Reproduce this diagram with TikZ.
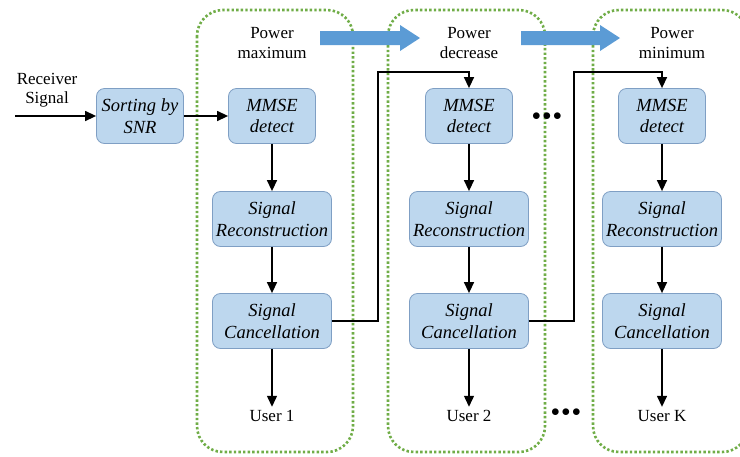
\documentclass[tikz,border=0pt]{standalone}
\usepackage{fontspec}
\setmainfont{Liberation Serif}
\newfontfamily\diagfont{Liberation Serif}
\usetikzlibrary{arrows.meta}
\definecolor{boxfill}{HTML}{BDD7EE}
\definecolor{boxline}{HTML}{7F9FC4}
\definecolor{groupgreen}{HTML}{70AD47}
\definecolor{flowblue}{HTML}{5B9BD5}
\tikzset{
  proc/.style={draw=boxline, fill=boxfill, rounded corners=8pt, line width=0.8pt,
    minimum height=55pt, align=center, font=\diagfont\fontsize{18.5}{21.5}\selectfont\itshape, inner sep=2pt},
  label/.style={align=center, font=\diagfont\fontsize{17}{19.5}\selectfont},
  group/.style={draw=groupgreen, line width=2.6pt, dash pattern=on 2.4pt off 2.2pt, rounded corners=26pt},
  flow/.style={-{Triangle[length=11pt,width=10pt]}, line width=1.4pt},
  power/.style={fill=flowblue},
  dots/.style={font=\fontsize{18}{18}\selectfont}
}
\begin{document}
\begin{tikzpicture}[x=1pt,y=-1pt]
\useasboundingbox[fill=white] (0,0) rectangle (740,456);
\begin{scope}
\clip (0,0) rectangle (740,456);
% stage groups
\draw[group] (197,10) rectangle (353,452);
\draw[group] (388,10) rectangle (545,452);
\draw[group] (593,10) rectangle (748,452);
\end{scope}

% power trend arrows
\fill[power] (320,31) -- (400,31) -- (400,25) -- (420,38) -- (400,51) -- (400,45) -- (320,45) -- cycle;
\fill[power] (521,31) -- (600,31) -- (600,25) -- (620,38) -- (600,51) -- (600,45) -- (521,45) -- cycle;

% stage titles
\node[label] (t1) at (272,43) {Power\\maximum};
\node[label] (t2) at (469,43) {Power\\decrease};
\node[label] (t3) at (672,43) {Power\\minimum};

% input
\coordinate (in) at (15,116);
\node[label] (rs) at (47,90) {Receiver\\Signal};
\node[proc, minimum width=87pt] (sort) at (140,116) {Sorting by\\SNR};

% stage 1
\node[proc, minimum width=87pt] (m1) at (272,116) {MMSE\\detect};
\node[proc, minimum width=119pt] (r1) at (272,219) {Signal\\Reconstruction};
\node[proc, minimum width=119pt] (c1) at (272,321) {Signal\\Cancellation};
\node[label] (u1) at (272,416) {User 1};

% stage 2
\node[proc, minimum width=87pt] (m2) at (469,116) {MMSE\\detect};
\node[proc, minimum width=119pt] (r2) at (469,219) {Signal\\Reconstruction};
\node[proc, minimum width=119pt] (c2) at (469,321) {Signal\\Cancellation};
\node[label] (u2) at (469,416) {User 2};

% stage K
\node[proc, minimum width=87pt] (m3) at (662,116) {MMSE\\detect};
\node[proc, minimum width=119pt] (r3) at (662,219) {Signal\\Reconstruction};
\node[proc, minimum width=119pt] (c3) at (662,321) {Signal\\Cancellation};
\node[label] (u3) at (662,416) {User K};

% ellipses between stages
\node[dots] (d1) at (547,117) {$\bullet\mkern-2mu\bullet\mkern-2mu\bullet$};
\node[dots] (d2) at (566,413) {$\bullet\mkern-2mu\bullet\mkern-2mu\bullet$};

% connectors
\draw[flow] (in) -- (sort);
\draw[flow] (sort) -- (m1);
\foreach \k in {1,2,3}{
  \draw[flow] (m\k) -- (r\k);
  \draw[flow] (r\k) -- (c\k);
  \draw[flow] (c\k) -- (u\k);
}
\draw[flow] (c1.east) -- (378,321) -- (378,72) -| (m2.north);
\draw[flow] (c2.east) -- (574,321) -- (574,72) -| (m3.north);
\end{tikzpicture}
\end{document}
